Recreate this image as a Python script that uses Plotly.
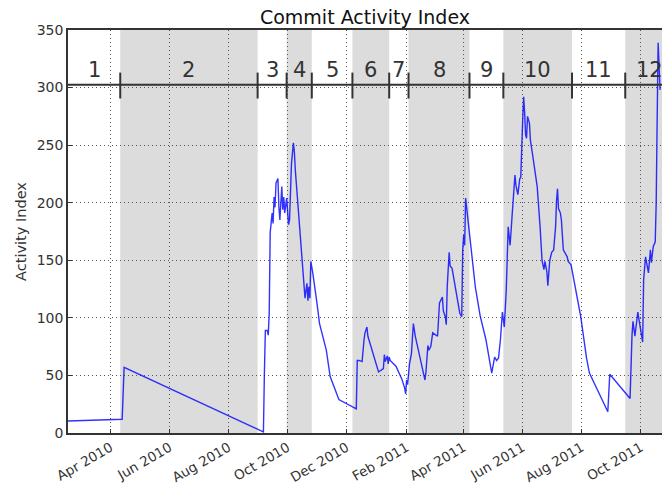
import pandas as pd
import plotly.graph_objects as go

# Daily commit activity index
dates = [
    "2010-02-16", "2010-04-13", "2010-04-15", "2010-09-06", "2010-09-07", "2010-09-08",
    "2010-09-10", "2010-09-11", "2010-09-12", "2010-09-13", "2010-09-15", "2010-09-16",
    "2010-09-17", "2010-09-18", "2010-09-19", "2010-09-21", "2010-09-22", "2010-09-23",
    "2010-09-25", "2010-09-26", "2010-09-27", "2010-09-28", "2010-09-30", "2010-10-02",
    "2010-10-03", "2010-10-04", "2010-10-05", "2010-10-07", "2010-10-08", "2010-10-09",
    "2010-10-11", "2010-10-14", "2010-10-16", "2010-10-18", "2010-10-19", "2010-10-21",
    "2010-10-22", "2010-10-23", "2010-10-24", "2010-10-25", "2010-10-27", "2010-10-31",
    "2010-11-03", "2010-11-10", "2010-11-14", "2010-11-23", "2010-12-11", "2010-12-12",
    "2010-12-14", "2010-12-17", "2010-12-18", "2010-12-19", "2010-12-20", "2010-12-22",
    "2010-12-23", "2010-12-28", "2011-01-03", "2011-01-08", "2011-01-09", "2011-01-10",
    "2011-01-12", "2011-01-13", "2011-01-14", "2011-01-15", "2011-01-21", "2011-01-27",
    "2011-01-30", "2011-01-31", "2011-02-01", "2011-02-02", "2011-02-04", "2011-02-06",
    "2011-02-08", "2011-02-10", "2011-02-15", "2011-02-20", "2011-02-21", "2011-02-23",
    "2011-02-24", "2011-02-26", "2011-02-28", "2011-03-03", "2011-03-05", "2011-03-07",
    "2011-03-10", "2011-03-11", "2011-03-13", "2011-03-14", "2011-03-15", "2011-03-17",
    "2011-03-18", "2011-03-20", "2011-03-28", "2011-03-30", "2011-03-31", "2011-04-01",
    "2011-04-02", "2011-04-03", "2011-04-05", "2011-04-10", "2011-04-13", "2011-04-18",
    "2011-04-24", "2011-04-30", "2011-05-03", "2011-05-05", "2011-05-07", "2011-05-09",
    "2011-05-11", "2011-05-13", "2011-05-15", "2011-05-17", "2011-05-19", "2011-05-21",
    "2011-05-22", "2011-05-24", "2011-05-25", "2011-05-27", "2011-05-29", "2011-05-30",
    "2011-06-01", "2011-06-02", "2011-06-03", "2011-06-04", "2011-06-05", "2011-06-06",
    "2011-06-08", "2011-06-09", "2011-06-11", "2011-06-12", "2011-06-16", "2011-06-19",
    "2011-06-21", "2011-06-23", "2011-06-24", "2011-06-26", "2011-06-27", "2011-06-29",
    "2011-07-01", "2011-07-03", "2011-07-05", "2011-07-06", "2011-07-07", "2011-07-08",
    "2011-07-10", "2011-07-11", "2011-07-13", "2011-07-17", "2011-07-18", "2011-07-21",
    "2011-07-24", "2011-07-31", "2011-08-06", "2011-08-09", "2011-08-28", "2011-08-30",
    "2011-09-20", "2011-09-21", "2011-09-22", "2011-09-23", "2011-09-25", "2011-09-28",
    "2011-10-02", "2011-10-03", "2011-10-04", "2011-10-06", "2011-10-09", "2011-10-11",
    "2011-10-12", "2011-10-14", "2011-10-16", "2011-10-17", "2011-10-18", "2011-10-19",
    "2011-10-21",
]
activity = [
    10.4, 11.9, 57, 1, 52, 89,
    89, 85, 104, 174, 191, 182,
    205, 196, 217, 221, 196, 185,
    214, 194, 205, 191, 204, 181,
    185, 217, 234, 252, 244, 228,
    205, 176, 153, 130, 117, 130,
    115, 127, 117, 149, 139, 115,
    95, 72, 49, 29, 21, 63,
    63, 62, 75, 81, 87, 92,
    84, 69, 53, 56, 68, 62,
    67, 60, 66, 63, 58, 47,
    39, 34, 46, 42, 60, 69,
    95, 84, 66, 46, 53, 76,
    72, 75, 87, 85, 84, 113,
    118, 106, 101, 94, 127, 157,
    145, 143, 104, 101, 159, 172,
    163, 204, 188, 150, 127, 102,
    81, 52, 66, 63, 65, 81,
    105, 92, 124, 179, 163, 188,
    198, 224, 215, 207, 221, 222,
    272, 292, 278, 259, 256, 275,
    269, 254, 243, 237, 214, 179,
    150, 142, 149, 140, 128, 150,
    157, 159, 179, 202, 212, 195,
    191, 185, 159, 153, 149, 146,
    133, 101, 65, 52, 18.5, 51,
    30, 72, 85, 97, 84, 105,
    87, 79, 133, 153, 139, 159,
    148, 162, 166, 200, 272, 339,
    298,
]

# Release-cycle periods: boundaries and labels
period_edges = [
    "2010-02-16", "2010-04-11", "2010-08-31", "2010-09-30", "2010-10-26",
    "2010-12-07", "2011-01-14", "2011-02-03", "2011-04-07", "2011-05-12",
    "2011-07-22", "2011-09-15", "2011-11-05",
]
period_labels = ["1", "2", "3", "4", "5", "6", "7", "8", "9", "10", "11", "12"]

x_range = ["2010-02-16", "2011-10-23"]
y_range = [0, 350]
y_ticks = [0, 50, 100, 150, 200, 250, 300, 350]

BAND_Y = 302.5
BAND_TICK = (290.5, 313.0)
LABEL_Y = 315.0
DARK = "#333333"
GRID = "#555555"

fig = go.Figure()

fig.add_trace(go.Scatter(
    x=pd.to_datetime(dates), y=activity, mode="lines",
    line=dict(color="rgba(0,0,255,0.8)", width=1.4),
    hoverinfo="x+y",
))

shapes = []
edges = pd.to_datetime(period_edges)
# alternate shading of even periods
for i in range(len(period_labels)):
    if i % 2 == 1:
        shapes.append(dict(
            type="rect", xref="x", yref="paper",
            x0=edges[i], x1=edges[i + 1], y0=0, y1=1,
            fillcolor="#dcdcdc", line=dict(width=0), layer="below",
        ))

# period band: horizontal bar with separators
shapes.append(dict(
    type="line", xref="paper", yref="y", x0=0, x1=1, y0=BAND_Y, y1=BAND_Y,
    line=dict(color=DARK, width=2), layer="above",
))
for e in edges[1:-1]:
    shapes.append(dict(
        type="line", xref="x", yref="y", x0=e, x1=e,
        y0=BAND_TICK[0], y1=BAND_TICK[1],
        line=dict(color=DARK, width=2), layer="above",
    ))

annotations = []
for i, lab in enumerate(period_labels):
    mid = edges[i] + (edges[i + 1] - edges[i]) / 2
    annotations.append(dict(
        x=mid, y=LABEL_Y, xref="x", yref="y", text=lab, showarrow=False,
        font=dict(size=21, color=DARK), xanchor="center", yanchor="middle",
    ))

fig.update_layout(
    width=662, height=484,
    margin=dict(l=68, r=0, t=30, b=51),
    plot_bgcolor="white", paper_bgcolor="white",
    font=dict(family="DejaVu Sans", color=DARK),
    showlegend=False,
    title=dict(
        text="Commit Activity Index", x=0.5, xref="paper", xanchor="center",
        y=1 - 17 / 484, yref="container", yanchor="middle",
        font=dict(size=19, color="#111111"),
    ),
    shapes=shapes,
    annotations=annotations,
    xaxis=dict(
        type="date", range=x_range,
        tick0="2010-04-01", dtick="M2", tickformat="%b %Y",
        tickangle=-30, tickfont=dict(size=13.5, color=DARK),
        showgrid=True, gridcolor=GRID, griddash="1px,3px", gridwidth=1,
        showline=True, linecolor=DARK, linewidth=1.5, mirror=True,
        ticks="inside", ticklen=4, tickcolor=DARK,
        zeroline=False, automargin=False,
    ),
    yaxis=dict(
        range=y_range, tickvals=y_ticks,
        tickfont=dict(size=14, color=DARK),
        title=dict(text="Activity Index", font=dict(size=14.5, color=DARK), standoff=7),
        showgrid=True, gridcolor=GRID, griddash="1px,3px", gridwidth=1,
        showline=True, linecolor=DARK, linewidth=1.5, mirror=False,
        ticks="inside", ticklen=4, tickcolor=DARK,
        zeroline=False, automargin=False,
    ),
)

fig.write_html("out.html")
